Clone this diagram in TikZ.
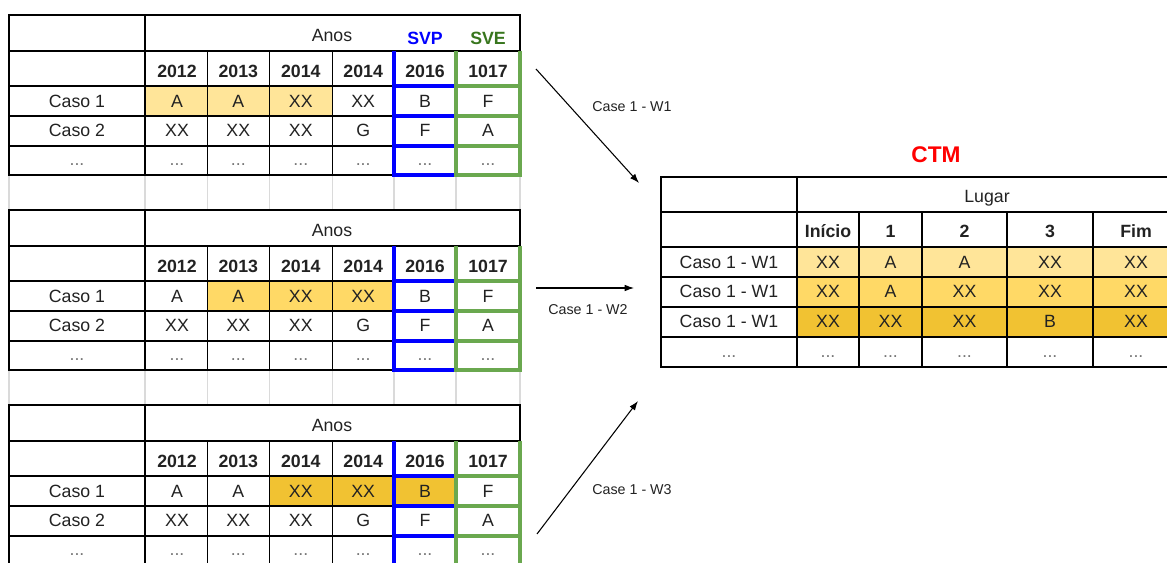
\documentclass[tikz,border=0pt]{standalone}
\usepackage{fontspec}
\setmainfont{Liberation Sans}
\usepackage{xcolor}
\usetikzlibrary{arrows.meta}
\definecolor{sheetPale}{HTML}{FFE599}
\definecolor{sheetMid}{HTML}{FFD966}
\definecolor{sheetDeep}{HTML}{F1C232}
\definecolor{sheetBlue}{HTML}{0000FF}
\definecolor{sheetGreen}{HTML}{6AA84F}
\definecolor{sheetGreenText}{HTML}{38761D}
\definecolor{sheetRed}{HTML}{FF0000}
\definecolor{sheetGrid}{HTML}{DADADA}
\definecolor{sheetDots}{HTML}{777777}
\definecolor{sheetInk}{HTML}{222222}

\begin{document}
\begin{tikzpicture}[x=0.75pt, y=-0.75pt,
    every node/.style={font=\fontsize{13.3}{16}\selectfont, text=sheetInk, inner sep=0pt, anchor=base},
    headtext/.style={font=\fontsize{13.3}{16}\selectfont\bfseries},
    ctmtext/.style={font=\fontsize{17}{20}\selectfont\bfseries, text=sheetRed},
    dotstext/.style={text=sheetDots},
    cellline/.style={line width=0.9pt, black},
    gapline/.style={line width=0.9pt, sheetGrid},
    svpline/.style={line width=2.3pt, sheetBlue},
    sveline/.style={line width=2.3pt, sheetGreen},
    flowarrow/.style={line width=0.8pt, -{Latex[length=7pt,width=5pt]}},
    flowlabel/.style={font=\fontsize{10.7}{13}\selectfont}]
    \clip (0,0) rectangle (1167,563);
    \fill[white] (0,0) rectangle (1167,563);

    % the three year tables
    \foreach \t/\dy/\fa/\fb/\fc in {1/0/145/332.3/sheetPale, 2/195/207.3/394/sheetMid, 3/390/269.3/456/sheetDeep} {
      \begin{scope}[shift={(0,\dy)}]
        \fill[\fc] (\fa,86) rectangle (\fb,116);
        \foreach \x in {9,145,207.3,269.3,332.3,394,456,520}
          \draw[gapline] (\x,175) -- (\x,210);
        \draw[cellline] (9,15) rectangle (520,175);
        \draw[cellline] (145,15) -- (145,175);
        \foreach \y in {51,86,116,146}
          \draw[cellline] (9,\y) -- (520,\y);
        \foreach \x in {207.3,269.3,332.3}
          \draw[cellline] (\x,51) -- (\x,175);
        % SVP / SVE columns
        \draw[svpline] (394,51) -- (394,175);
        \foreach \y in {86,116,146,175}
          \draw[svpline, line cap=rect] (394,\y) -- (456,\y);
        \draw[sveline] (456,51) -- (456,175) (520,51) -- (520,175);
        \foreach \y in {86,116,146,175}
          \draw[sveline, line cap=rect] (456,\y) -- (520,\y);
        \node (anos\t) at (332,41.7) {Anos};
        \foreach \x/\yr [count=\i] in {177/2012,238.3/2013,300.8/2014,363.2/2014,425/2016,488/1017}
          \node[headtext] (ano\t-\i) at (\x,77.3) {\yr};
        \node (rot\t-1) at (77,107.3) {Caso 1};
        \foreach \x/\v [count=\i] in {177/A,238.3/A,300.8/XX,363.2/XX,425/B,488/F}
          \node (caso\t-1-\i) at (\x,107.3) {\v};
        \node (rot\t-2) at (77,136.7) {Caso 2};
        \foreach \x/\v [count=\i] in {177/XX,238.3/XX,300.8/XX,363.2/G,425/F,488/A}
          \node (caso\t-2-\i) at (\x,136.7) {\v};
        \foreach \x [count=\i] in {77,177,238.3,300.8,363.2,425,488}
          \node[dotstext] (mais\t-\i) at (\x,165.7) {...};
      \end{scope}
    }
    \node[headtext, text=sheetBlue] (svp) at (425,45) {SVP};
    \node[headtext, text=sheetGreenText] (sve) at (488,45) {SVE};

    % CTM table
    \fill[sheetPale] (797,247) rectangle (1179,277);
    \fill[sheetMid] (797,277) rectangle (1179,307);
    \fill[sheetDeep] (797,307) rectangle (1179,337);
    \draw[cellline] (661,177) rectangle (1179,367);
    \draw[cellline] (797,177) -- (797,367);
    \foreach \y in {212,247,277,307,337}
      \draw[cellline] (661,\y) -- (1179,\y);
    \foreach \x in {859,922,1007,1093}
      \draw[cellline] (\x,212) -- (\x,367);
    \node[ctmtext] (ctm) at (936,163) {CTM};
    \node (lugar) at (987,203) {Lugar};
    \foreach \x/\v [count=\i] in {828/Início,890.5/1,964.5/2,1050/3,1136/Fim}
      \node[headtext] (pos-\i) at (\x,238) {\v};
    \node (linha-1) at (729,268) {Caso 1 - W1};
    \foreach \x/\v [count=\i] in {828/XX,890.5/A,964.5/A,1050/XX,1136/XX}
      \node (ctm-1-\i) at (\x,268) {\v};
    \node (linha-2) at (729,297.7) {Caso 1 - W1};
    \foreach \x/\v [count=\i] in {828/XX,890.5/A,964.5/XX,1050/XX,1136/XX}
      \node (ctm-2-\i) at (\x,297.7) {\v};
    \node (linha-3) at (729,327.3) {Caso 1 - W1};
    \foreach \x/\v [count=\i] in {828/XX,890.5/XX,964.5/XX,1050/B,1136/XX}
      \node (ctm-3-\i) at (\x,327.3) {\v};
    \foreach \x [count=\i] in {729,828,890.5,964.5,1050,1136}
      \node[dotstext] (ctm-mais-\i) at (\x,357.5) {...};

    % windows into the CTM
    \coordinate (w1from) at (536,69);
    \coordinate (w1to) at (639,183);
    \coordinate (w2from) at (536,288);
    \coordinate (w2to) at (634,288);
    \coordinate (w3from) at (537,534);
    \coordinate (w3to) at (638,401);
    \draw[flowarrow] (w1from) -- (w1to);
    \draw[flowarrow] (w2from) -- (w2to);
    \draw[flowarrow] (w3from) -- (w3to);
    \node[flowlabel] (w1lbl) at (632,112) {Case 1 - W1};
    \node[flowlabel] (w2lbl) at (588,314) {Case 1 - W2};
    \node[flowlabel] (w3lbl) at (632,494) {Case 1 - W3};
\end{tikzpicture}
\end{document}
